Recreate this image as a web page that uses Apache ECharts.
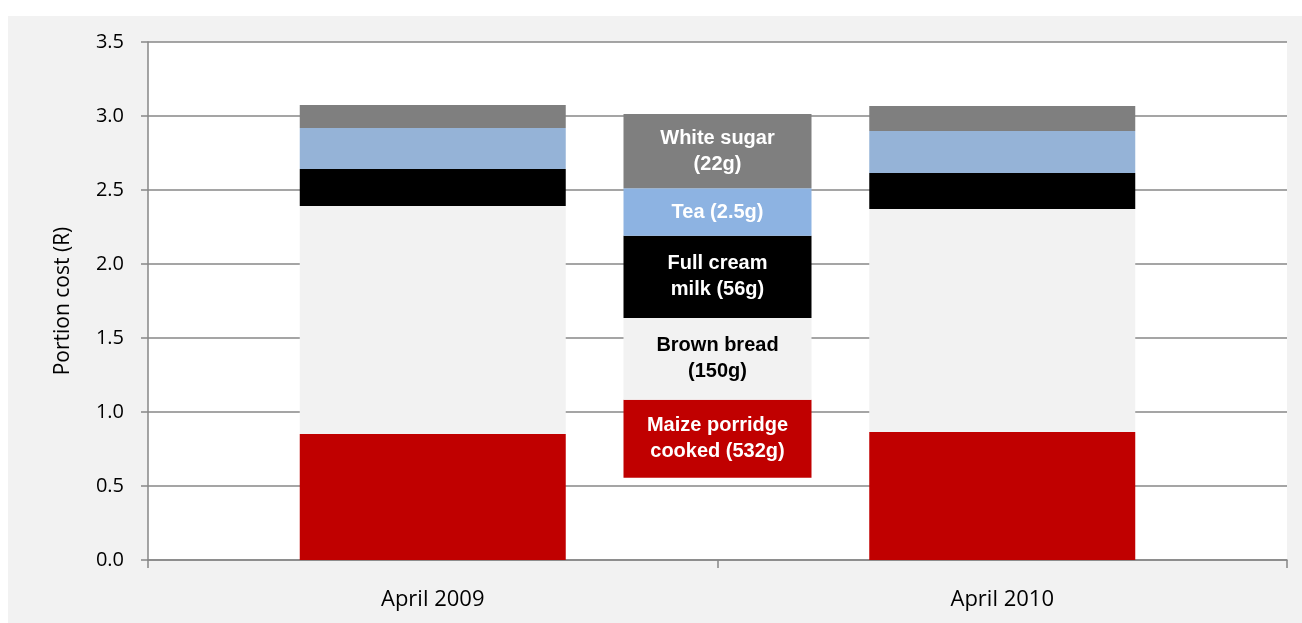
<!DOCTYPE html>
<html>
<head>
<meta charset="utf-8">
<script src="https://cdn.jsdelivr.net/npm/echarts@6/dist/echarts.min.js"></script>
<style>
  html, body { margin: 0; padding: 0; background: #fff; }
  .panel { position: absolute; left: 8px; top: 16px; width: 1294px; height: 607px; background: #f2f2f2; }
  #chart { position: absolute; left: 0; top: 0; width: 1302px; height: 623px; }
</style>
</head>
<body>
<div class="panel"></div>
<div id="chart"></div>
<script>
const categories = ['April 2009', 'April 2010']
const maize = [0.851, 0.865]
const bread = [1.541, 1.507]
const milk = [0.250, 0.243]
const tea = [0.277, 0.284]
const sugar = [0.155, 0.169]

// the label block standing between the two bars
const keySlots = ['', 'key', '']
const keyBase = 0.556
const keyNames = ['Maize porridge\ncooked (532g)', 'Brown bread\n(150g)', 'Full cream\nmilk (56g)', 'Tea (2.5g)', 'White sugar\n(22g)']
const keyHeights = [0.527, 0.552, 0.556, 0.320, 0.503]

const barColors = ['#c00000', '#f2f2f2', '#000000', '#95b3d7', '#7f7f7f']
const keyColors = ['#c00000', '#f2f2f2', '#000000', '#8db3e2', '#7f7f7f']
const keyText = ['#fff', '#000', '#fff', '#fff', '#fff']

const axisFont = '"Open Sans", sans-serif'
const gridColor = '#878787'

const chart = echarts.init(document.getElementById('chart'))

const mainSeries = [maize, bread, milk, tea, sugar].map((vals, i) => ({
  name: keyNames[i],
  type: 'bar',
  stack: 'total',
  xAxisIndex: 0,
  barWidth: 266,
  data: vals,
  itemStyle: { color: barColors[i] },
  silent: true
}))

const keySeries = [{
  type: 'bar',
  stack: 'key',
  xAxisIndex: 1,
  barWidth: 188,
  data: [null, keyBase, null],
  itemStyle: { color: 'transparent' },
  silent: true
}].concat(keyHeights.map((h, i) => ({
  type: 'bar',
  stack: 'key',
  xAxisIndex: 1,
  barWidth: 188,
  data: [null, h, null],
  itemStyle: { color: keyColors[i] },
  label: {
    show: true,
    position: 'inside',
    formatter: keyNames[i],
    color: keyText[i],
    fontFamily: '"Liberation Sans", Arial, sans-serif',
    fontWeight: 'bold',
    fontSize: 20,
    lineHeight: 26
  },
  silent: true
})))

chart.setOption({
  animation: false,
  backgroundColor: 'transparent',
  grid: {
    left: 148,
    right: 15,
    top: 42,
    bottom: 63,
    show: true,
    backgroundColor: '#ffffff',
    borderWidth: 0
  },
  xAxis: [{
    type: 'category',
    data: categories,
    axisLine: { lineStyle: { color: gridColor, width: 1.5 } },
    axisTick: { show: true, length: 8, lineStyle: { color: gridColor, width: 1.5 } },
    axisLabel: { color: '#000', fontSize: 22, fontFamily: axisFont, margin: 29 }
  }, {
    type: 'category',
    data: keySlots,
    show: false
  }],
  yAxis: {
    type: 'value',
    min: 0,
    max: 3.5,
    interval: 0.5,
    name: 'Portion cost (R)',
    nameLocation: 'middle',
    nameGap: 74,
    nameTextStyle: { color: '#000', fontSize: 21, fontFamily: axisFont },
    axisLine: { show: true, lineStyle: { color: gridColor, width: 1.5 } },
    axisTick: { show: true, length: 7, lineStyle: { color: gridColor, width: 1.5 } },
    axisLabel: {
      color: '#000',
      fontSize: 20,
      fontFamily: axisFont,
      margin: 24,
      formatter: v => v.toFixed(1)
    },
    splitLine: { lineStyle: { color: gridColor, width: 1.5 } }
  },
  series: mainSeries.concat(keySeries)
})
</script>
</body>
</html>
